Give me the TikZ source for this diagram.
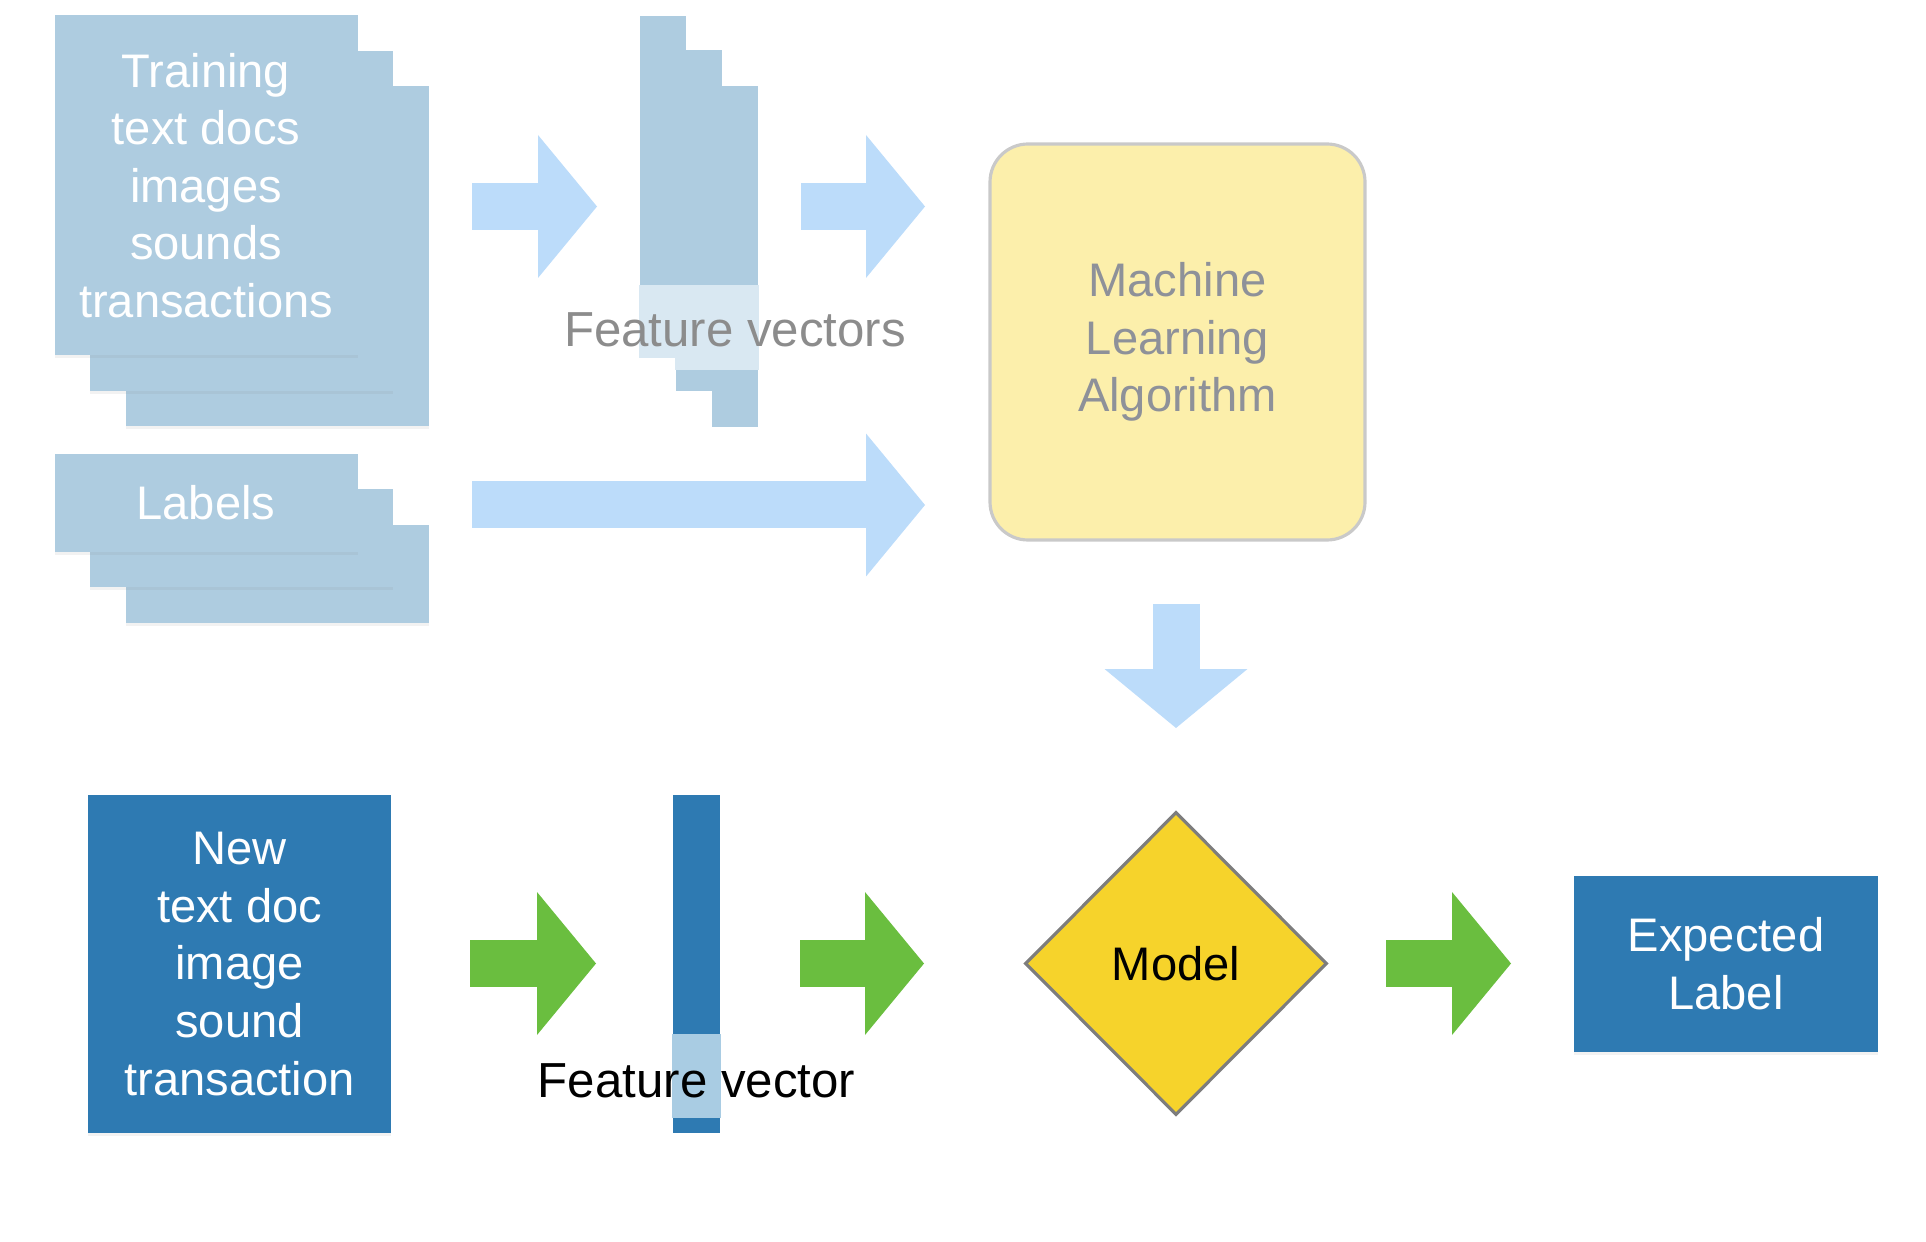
\documentclass[tikz,border=0pt]{standalone}
\usepackage{fontspec}
\setmainfont{Liberation Sans}
\usetikzlibrary{arrows.meta,shapes.geometric,shadows}

\definecolor{sheetblue}{HTML}{AECCE0}
\definecolor{sheetpale}{HTML}{D9E8F2}
\definecolor{arrowblue}{HTML}{BCDCFA}
\definecolor{deepblue}{HTML}{2E7AB2}
\definecolor{deeppale}{HTML}{A9CCE3}
\definecolor{arrowgreen}{HTML}{6ABE3F}
\definecolor{algofill}{HTML}{FCEFAB}
\definecolor{algoline}{HTML}{C9C9C9}
\definecolor{algotext}{HTML}{8E9199}
\definecolor{modelfill}{HTML}{F6D32B}
\definecolor{modelline}{HTML}{7D7D7D}
\definecolor{captiongray}{HTML}{8C8C8C}

\begin{document}
\begin{tikzpicture}[
    every node/.style={inner sep=0pt, font=\fontsize{13.4}{16.4}\selectfont},
    softshadow/.style={drop shadow={shadow xshift=0pt, shadow yshift=-0.3mm, opacity=0.1}},
    sheet/.style={rectangle, fill=sheetblue, softshadow, minimum width=3.03cm, text=white, align=center},
    vecbar/.style={rectangle, fill=sheetblue, minimum width=0.46cm, minimum height=3.41cm},
    deepbox/.style={rectangle, fill=deepblue, softshadow, text=white, align=center},
    blockarrow/.style={line width=0.47cm, -{Triangle[line width=0pt, length=0.59cm, width=1.43cm]}},
    bluearrow/.style={blockarrow, draw=arrowblue},
    greenarrow/.style={blockarrow, draw=arrowgreen}
]
    \useasboundingbox (0,0) rectangle (19.26,-12.42);

    \coordinate (docs3c) at (2.77, -2.565);
    \coordinate (docs2c) at (2.415, -2.21);
    \coordinate (docs1c) at (2.06, -1.855);
    \coordinate (labs3c) at (2.77, -5.74);
    \coordinate (labs2c) at (2.415, -5.385);
    \coordinate (labs1c) at (2.06, -5.03);
    \coordinate (vec3c) at (7.35, -2.565);
    \coordinate (vec2c) at (6.99, -2.21);
    \coordinate (vec1c) at (6.63, -1.865);
    \coordinate (bandtop) at (0, -2.85);
    \coordinate (bandbot) at (0, -3.70);
    \coordinate (algoc) at (11.775, -3.42);
    \coordinate (newc) at (2.395, -9.64);
    \coordinate (barc) at (6.965, -9.64);
    \coordinate (modelc) at (11.76, -9.635);
    \coordinate (expc) at (17.26, -9.635);

    % training data
    \node[sheet, minimum height=3.40cm] (docs3) at (docs3c) {};
    \node[sheet, minimum height=3.40cm] (docs2) at (docs2c) {};
    \node[sheet, minimum height=3.40cm] (docs1) at (docs1c)
        {Training\\text docs\\images\\sounds\\transactions};

    \node[sheet, minimum height=0.98cm] (labs3) at (labs3c) {};
    \node[sheet, minimum height=0.98cm] (labs2) at (labs2c) {};
    \node[sheet, minimum height=0.98cm] (labs1) at (labs1c) {Labels};

    % feature vectors
    \node[vecbar] (vec3) at (vec3c) {};
    \fill[sheetpale] (vec3.west |- bandtop) rectangle (vec3.east |- bandbot);
    \node[vecbar] (vec2) at (vec2c) {};
    \fill[sheetpale] (vec2.west |- bandtop) rectangle (vec2.east |- bandbot);
    \node[vecbar] (vec1) at (vec1c) {};
    \fill[sheetpale] (vec1.west |- bandtop) rectangle (vec1.south east);
    \node[anchor=base, text=captiongray, font=\fontsize{14}{17}\selectfont]
        (vecs) at (7.35, -3.47) {Feature vectors};

    \node[rectangle, rounded corners=0.38cm, fill=algofill, draw=algoline,
        line width=0.9pt, minimum width=3.75cm, minimum height=3.96cm,
        text=algotext, align=center] (algo) at (algoc)
        {Machine\\Learning\\Algorithm};

    \coordinate (a1s) at (4.72, -2.065);
    \coordinate (a1e) at (5.97, -2.065);
    \coordinate (a2s) at (8.01, -2.065);
    \coordinate (a2e) at (9.25, -2.065);
    \coordinate (a3s) at (4.72, -5.05);
    \coordinate (a3e) at (9.25, -5.05);
    \coordinate (a4s) at (11.76, -6.04);
    \coordinate (a4e) at (11.76, -7.28);

    \draw[bluearrow] (a1s) -- (a1e);
    \draw[bluearrow] (a2s) -- (a2e);
    \draw[bluearrow] (a3s) -- (a3e);
    \draw[bluearrow] (a4s) -- (a4e);

    % prediction
    \node[deepbox, minimum width=3.03cm, minimum height=3.38cm] (new) at (newc)
        {New\\text doc\\image\\sound\\transaction};

    \node[rectangle, fill=deepblue, minimum width=0.47cm, minimum height=3.38cm] (bar) at (barc) {};
    \fill[deeppale] (bar.west |- 0,-10.34) rectangle (bar.east |- 0,-11.18);
    \node[anchor=base, font=\fontsize{14}{17}\selectfont] (vec) at (6.965, -10.97) {Feature vector};

    \node[diamond, fill=modelfill, draw=modelline, line width=0.9pt,
        minimum width=3.02cm, minimum height=3.03cm] (model) at (modelc) {Model};

    \node[deepbox, minimum width=3.04cm, minimum height=1.76cm] (exp) at (expc)
        {Expected\\Label};

    \coordinate (g1s) at (4.70, -9.635);
    \coordinate (g1e) at (5.96, -9.635);
    \coordinate (g2s) at (8.00, -9.635);
    \coordinate (g2e) at (9.24, -9.635);
    \coordinate (g3s) at (13.86, -9.635);
    \coordinate (g3e) at (15.11, -9.635);

    \draw[greenarrow] (g1s) -- (g1e);
    \draw[greenarrow] (g2s) -- (g2e);
    \draw[greenarrow] (g3s) -- (g3e);
\end{tikzpicture}
\end{document}
